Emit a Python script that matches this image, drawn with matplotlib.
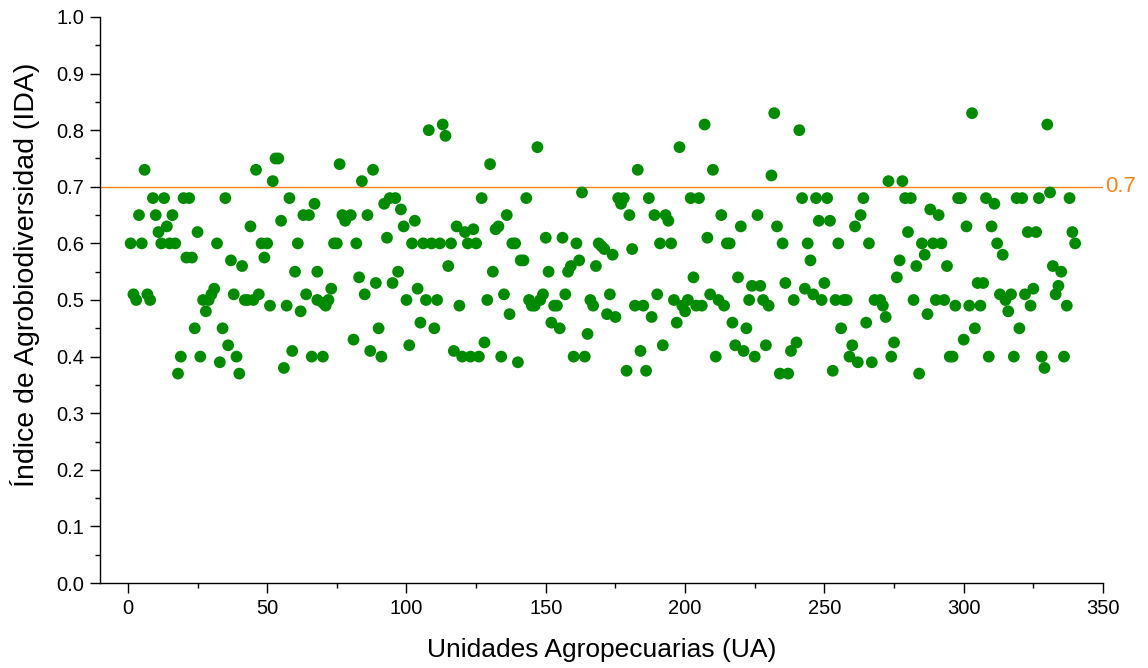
import matplotlib
matplotlib.use("Agg")
import matplotlib.pyplot as plt
from matplotlib.ticker import MultipleLocator

plt.rcParams['font.family'] = ['Liberation Sans', 'DejaVu Sans']

# UA index and IDA value
ua = [1, 2, 3, 4, 5, 6, 7, 8, 9, 10, 11, 12, 13, 14, 15, 16, 17, 18, 19, 20,
      21, 22, 23, 24, 25, 26, 27, 28, 29, 30, 31, 32, 33, 34, 35, 36, 37, 38, 39, 40,
      41, 42, 43, 44, 45, 46, 47, 48, 49, 50, 51, 52, 53, 54, 55, 56, 57, 58, 59, 60,
      61, 62, 63, 64, 65, 66, 67, 68, 68, 70, 70, 71, 72, 73, 74, 75, 76, 77, 78, 80,
      81, 82, 83, 84, 85, 86, 87, 88, 89, 90, 91, 92, 93, 94, 95, 96, 97, 98, 99, 100,
      101, 102, 103, 104, 105, 106, 107, 108, 109, 110, 111, 112, 113, 114, 115, 116, 117, 118, 119, 120,
      121, 122, 123, 124, 125, 126, 127, 128, 129, 130, 131, 132, 133, 134, 135, 136, 137, 138, 139, 140,
      141, 142, 143, 144, 145, 146, 147, 148, 149, 150, 151, 152, 153, 154, 155, 156, 157, 158, 159, 160,
      161, 162, 163, 164, 165, 166, 167, 168, 169, 170, 171, 172, 173, 174, 175, 176, 177, 178, 179, 180,
      181, 182, 183, 184, 185, 186, 187, 188, 189, 190, 191, 192, 193, 194, 195, 196, 197, 198, 199, 200,
      201, 202, 203, 204, 205, 206, 207, 208, 209, 210, 211, 212, 213, 214, 215, 216, 217, 218, 219, 220,
      221, 222, 223, 224, 225, 226, 227, 228, 229, 230, 231, 232, 233, 234, 235, 236, 237, 238, 239, 240,
      241, 242, 243, 244, 245, 246, 247, 248, 249, 250, 251, 252, 253, 254, 255, 256, 257, 258, 259, 260,
      261, 262, 263, 264, 265, 266, 267, 268, 270, 271, 272, 273, 274, 275, 276, 277, 278, 279, 280,
      281, 282, 283, 284, 285, 286, 287, 288, 289, 290, 291, 292, 293, 294, 295, 296, 297, 298, 299, 300,
      301, 302, 303, 304, 305, 306, 307, 308, 309, 310, 311, 312, 313, 314, 315, 316, 317, 318, 319, 320,
      321, 322, 323, 324, 325, 326, 327, 328, 329, 330, 331, 332, 333, 334, 335, 336, 337, 338, 339, 340]

ida = [0.6, 0.51, 0.5, 0.65, 0.6, 0.73, 0.51, 0.5, 0.68, 0.65, 0.62, 0.6, 0.68, 0.63, 0.6, 0.65, 0.6, 0.37, 0.4, 0.68,
       0.575, 0.68, 0.575, 0.45, 0.62, 0.4, 0.5, 0.48, 0.5, 0.51, 0.52, 0.6, 0.39, 0.45, 0.68, 0.42, 0.57, 0.51, 0.4, 0.37,
       0.56, 0.5, 0.5, 0.63, 0.5, 0.73, 0.51, 0.6, 0.575, 0.6, 0.49, 0.71, 0.75, 0.75, 0.64, 0.38, 0.49, 0.68, 0.41, 0.55,
       0.6, 0.48, 0.65, 0.51, 0.65, 0.4, 0.67, 0.55, 0.5, 0.495, 0.4, 0.49, 0.5, 0.52, 0.6, 0.6, 0.74, 0.65, 0.64, 0.65,
       0.43, 0.6, 0.54, 0.71, 0.51, 0.65, 0.41, 0.73, 0.53, 0.45, 0.4, 0.67, 0.61, 0.68, 0.53, 0.68, 0.55, 0.66, 0.63, 0.5,
       0.42, 0.6, 0.64, 0.52, 0.46, 0.6, 0.5, 0.8, 0.6, 0.45, 0.5, 0.6, 0.81, 0.79, 0.56, 0.6, 0.41, 0.63, 0.49, 0.4,
       0.62, 0.6, 0.4, 0.625, 0.6, 0.4, 0.68, 0.425, 0.5, 0.74, 0.55, 0.625, 0.63, 0.4, 0.51, 0.65, 0.475, 0.6, 0.6, 0.39,
       0.57, 0.57, 0.68, 0.5, 0.49, 0.49, 0.77, 0.5, 0.51, 0.61, 0.55, 0.46, 0.49, 0.49, 0.45, 0.61, 0.51, 0.55, 0.56, 0.4,
       0.6, 0.57, 0.69, 0.4, 0.44, 0.5, 0.49, 0.56, 0.6, 0.595, 0.59, 0.475, 0.51, 0.58, 0.47, 0.68, 0.67, 0.68, 0.375, 0.65,
       0.59, 0.49, 0.73, 0.41, 0.49, 0.375, 0.68, 0.47, 0.65, 0.51, 0.6, 0.42, 0.65, 0.64, 0.6, 0.5, 0.46, 0.77, 0.49, 0.48,
       0.5, 0.68, 0.54, 0.49, 0.68, 0.49, 0.81, 0.61, 0.51, 0.73, 0.4, 0.5, 0.65, 0.49, 0.6, 0.6, 0.46, 0.42, 0.54, 0.63,
       0.41, 0.45, 0.5, 0.525, 0.4, 0.65, 0.525, 0.5, 0.42, 0.49, 0.72, 0.83, 0.63, 0.37, 0.6, 0.53, 0.37, 0.41, 0.5, 0.425,
       0.8, 0.68, 0.52, 0.6, 0.57, 0.51, 0.68, 0.64, 0.5, 0.53, 0.68, 0.64, 0.375, 0.5, 0.6, 0.45, 0.5, 0.5, 0.4, 0.42,
       0.63, 0.39, 0.65, 0.68, 0.46, 0.6, 0.39, 0.5, 0.5, 0.49, 0.47, 0.71, 0.4, 0.425, 0.54, 0.57, 0.71, 0.68, 0.62,
       0.68, 0.5, 0.56, 0.37, 0.6, 0.58, 0.475, 0.66, 0.6, 0.5, 0.65, 0.6, 0.5, 0.56, 0.4, 0.4, 0.49, 0.68, 0.68, 0.43,
       0.63, 0.49, 0.83, 0.45, 0.53, 0.49, 0.53, 0.68, 0.4, 0.63, 0.67, 0.6, 0.51, 0.58, 0.5, 0.48, 0.51, 0.4, 0.68, 0.45,
       0.68, 0.51, 0.62, 0.49, 0.52, 0.62, 0.68, 0.4, 0.38, 0.81, 0.69, 0.56, 0.51, 0.525, 0.55, 0.4, 0.49, 0.68, 0.62, 0.6]

threshold = 0.7

fig = plt.figure(figsize=(11.48, 6.68), dpi=100)
ax = fig.add_axes([0.0871, 0.1272, 0.8737, 0.8474])

ax.scatter(ua, ida, s=72, color='#008a00', edgecolors='none', zorder=3)
ax.axhline(threshold, color='#f5861f', linewidth=1.0, zorder=2)
ax.text(1.002, threshold, '0.7', transform=ax.get_yaxis_transform(), color='#f5861f',
        fontsize=16, ha='left', va='center')

ax.set_xlim(-10, 350)
ax.set_ylim(0, 1.0)
ax.xaxis.set_major_locator(MultipleLocator(50))
ax.xaxis.set_minor_locator(MultipleLocator(25))
ax.yaxis.set_major_locator(MultipleLocator(0.1))
ax.yaxis.set_minor_locator(MultipleLocator(0.05))
ax.yaxis.set_major_formatter(matplotlib.ticker.FormatStrFormatter('%.1f'))

for s in ['top', 'right']:
    ax.spines[s].set_visible(False)
ax.spines['left'].set_linewidth(1.0)
ax.spines['bottom'].set_linewidth(1.0)
ax.tick_params(which='major', length=7.5, width=1, labelsize=14.5, direction='out', pad=4)
ax.tick_params(which='minor', length=3.6, width=1, direction='out')

ax.set_xlabel('Unidades Agropecuarias (UA)', fontsize=19)
ax.set_ylabel('Índice de Agrobiodiversidad (IDA)', fontsize=20.5)
ax.xaxis.set_label_coords(0.5, -0.097)
ax.yaxis.set_label_coords(-0.06, 0.545)

fig.savefig('out.png', dpi=100)
